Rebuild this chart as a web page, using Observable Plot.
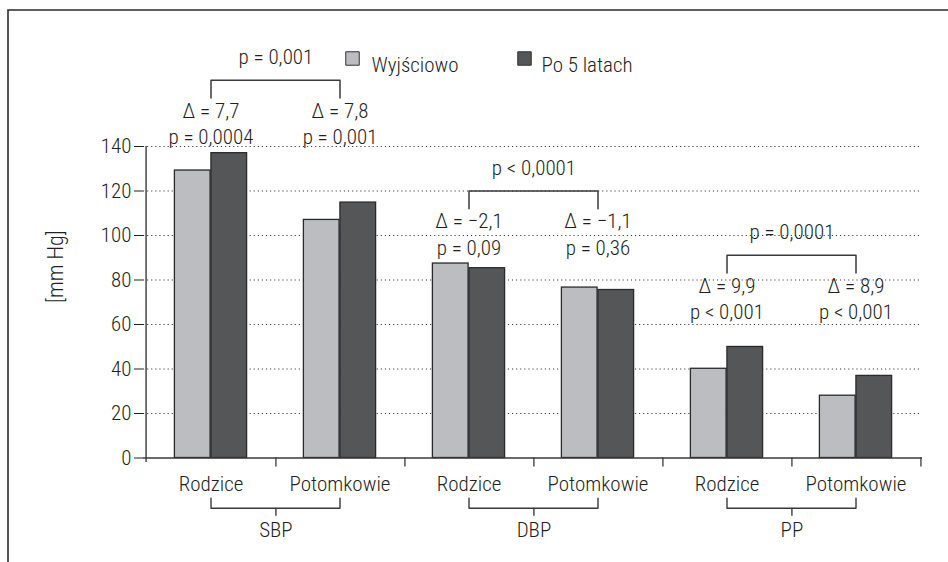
<!DOCTYPE html>
<html>
<head>
<meta charset="utf-8">
<script src="https://cdn.jsdelivr.net/npm/d3@7"></script>
<script src="https://cdn.jsdelivr.net/npm/@observablehq/plot@0.6"></script>
<style>
  html, body { margin: 0; padding: 0; background: #fff; }
</style>
</head>
<body>
<div id="chart"></div>
<script>
// ---- data ----
const groups = ["SBP", "DBP", "PP"];
const subgroups = ["Rodzice", "Potomkowie"];
const seriesNames = ["Wyjściowo", "Po 5 latach"];
const baseline = [129.2, 107.0, 87.4, 76.6, 40.1, 28.0];
const after5 = [137.0, 114.8, 85.3, 75.5, 49.9, 36.9];
const deltaLabels = ["Δ = 7,7", "Δ = 7,8", "Δ = −2,1", "Δ = −1,1", "Δ = 9,9", "Δ = 8,9"];
const pWithin = ["p = 0,0004", "p = 0,001", "p = 0,09", "p = 0,36", "p < 0,001", "p < 0,001"];
const pBetween = ["p = 0,001", "p < 0,0001", "p = 0,0001"];
const yTicks = [0, 20, 40, 60, 80, 100, 120, 140];
const yLabel = "[mm Hg]";

// ---- derived tables ----
const cats = groups.flatMap(g => subgroups.map(s => g + " " + s));
const groupOf = i => groups[Math.floor(i / 2)];
const subOf = i => subgroups[i % 2];
const rows = cats.flatMap((c, i) => [
  {cat: c, series: seriesNames[0], value: baseline[i]},
  {cat: c, series: seriesNames[1], value: after5[i]}
]);

// annotation layout (y levels in data units)
const level = {SBP: 156, DBP: 106.2, PP: 77.3};
const half = 779 / 6 / 2;
const ink = "#231f20";
const lineCol = "#3a3a3a";

const topBrackets = groups.flatMap(g => {
  const a = g + " " + subgroups[0], b = g + " " + subgroups[1], L = level[g];
  return [
    {g, x: a, y: L + 5.8}, {g, x: a, y: L + 13.8},
    {g, x: b, y: L + 13.8}, {g, x: b, y: L + 5.8}
  ];
});
const bottomBrackets = groups.flatMap(g => {
  const a = g + " " + subgroups[0], b = g + " " + subgroups[1];
  return [
    {g, x: a, y: -18.1}, {g, x: a, y: -22.6},
    {g, x: b, y: -22.6}, {g, x: b, y: -18.1}
  ];
});

const marks = [
  // dotted grid
  Plot.ruleY(yTicks.filter(t => t > 0), {stroke: "#333", strokeWidth: 1.1, strokeDasharray: "1.1,3"}),
  // bars
  Plot.barY(rows.filter(r => r.series === seriesNames[0]), {
    x: "cat", y: "value", fill: "series", stroke: "#2a2a2a", strokeWidth: 1.3,
    insetLeft: 28.4, insetRight: half
  }),
  Plot.barY(rows.filter(r => r.series === seriesNames[1]), {
    x: "cat", y: "value", fill: "series", stroke: "#2a2a2a", strokeWidth: 1.3,
    insetLeft: half, insetRight: 28.4
  }),
  // x axis line & y axis line
  Plot.ruleY([0], {stroke: lineCol, strokeWidth: 1.4}),
  Plot.ruleX([cats[0]], {x: d => d, dx: -half, y1: () => -2, y2: () => 140, stroke: lineCol, strokeWidth: 1.4}),
  // boundary ticks below x axis
  Plot.ruleX(cats, {x: d => d, dx: half, y1: () => 0, y2: () => -4, stroke: lineCol, strokeWidth: 1.3}),
  // within-group annotations
  Plot.text(cats, {x: d => d, y: (d, i) => level[groupOf(i)], text: (d, i) => deltaLabels[i]}),
  Plot.text(cats, {x: d => d, y: (d, i) => level[groupOf(i)] - 12, text: (d, i) => pWithin[i]}),
  // between-group brackets and p
  Plot.line(topBrackets, {x: "x", y: "y", z: "g", stroke: lineCol, strokeWidth: 1.5}),
  Plot.text(groups, {x: g => g + " " + subgroups[0], dx: half, y: g => level[g] + 24, text: (g, i) => pBetween[i]}),
  // category labels below axis
  Plot.text(cats, {x: d => d, y: () => -11.9, text: (d, i) => subOf(i)}),
  Plot.line(bottomBrackets, {x: "x", y: "y", z: "g", stroke: lineCol, strokeWidth: 1.4}),
  Plot.ruleX(groups, {x: g => g + " " + subgroups[0], dx: half, y1: () => -22.6, y2: () => -26.2, stroke: lineCol, strokeWidth: 1.4}),
  Plot.text(groups, {x: g => g + " " + subgroups[0], dx: half, y: () => -32.7, text: g => g}),
  // y label
  Plot.text([yLabel], {frameAnchor: "left", textAnchor: "middle", y: () => 86, dx: -88, rotate: -90, fontSize: 22, text: d => d}),
  // legend
  Plot.dot([seriesNames[0]], {frameAnchor: "top-left", dx: 209, dy: -88, symbol: "square", r: 7.6, fill: d => d, stroke: "#333", strokeWidth: 1}),
  Plot.text([seriesNames[0]], {frameAnchor: "top-left", dx: 228, dy: -89, textAnchor: "start", text: d => d}),
  Plot.dot([seriesNames[1]], {frameAnchor: "top-left", dx: 381, dy: -88, symbol: "square", r: 7.6, fill: d => d, stroke: "#333", strokeWidth: 1}),
  Plot.text([seriesNames[1]], {frameAnchor: "top-left", dx: 398, dy: -89, textAnchor: "start", text: d => d})
];

const svg = Plot.plot({
  width: 948,
  height: 562,
  marginLeft: 143,
  marginRight: 26,
  marginTop: 146,
  marginBottom: 104.5,
  style: {
    fontFamily: "'Roboto Condensed', 'Liberation Sans Narrow', 'DejaVu Sans Condensed', sans-serif",
    fontSize: "21px",
    fontWeight: "350",
    color: ink,
    background: "#fff",
    overflow: "visible"
  },
  x: {domain: cats, padding: 0, axis: null},
  y: {domain: [0, 140], ticks: yTicks, tickSize: 9, tickPadding: 3, label: null, tickFormat: d => String(d)},
  color: {domain: seriesNames, range: ["#bcbdc0", "#555658"]},
  marks
});

// frame decoration (top and left border of the figure panel)
d3.select(svg).append("path")
  .attr("d", "M8,562V10H948")
  .attr("fill", "none")
  .attr("stroke", "#2b2b2b")
  .attr("stroke-width", 1.6);

document.getElementById("chart").appendChild(svg);
</script>
</body>
</html>
